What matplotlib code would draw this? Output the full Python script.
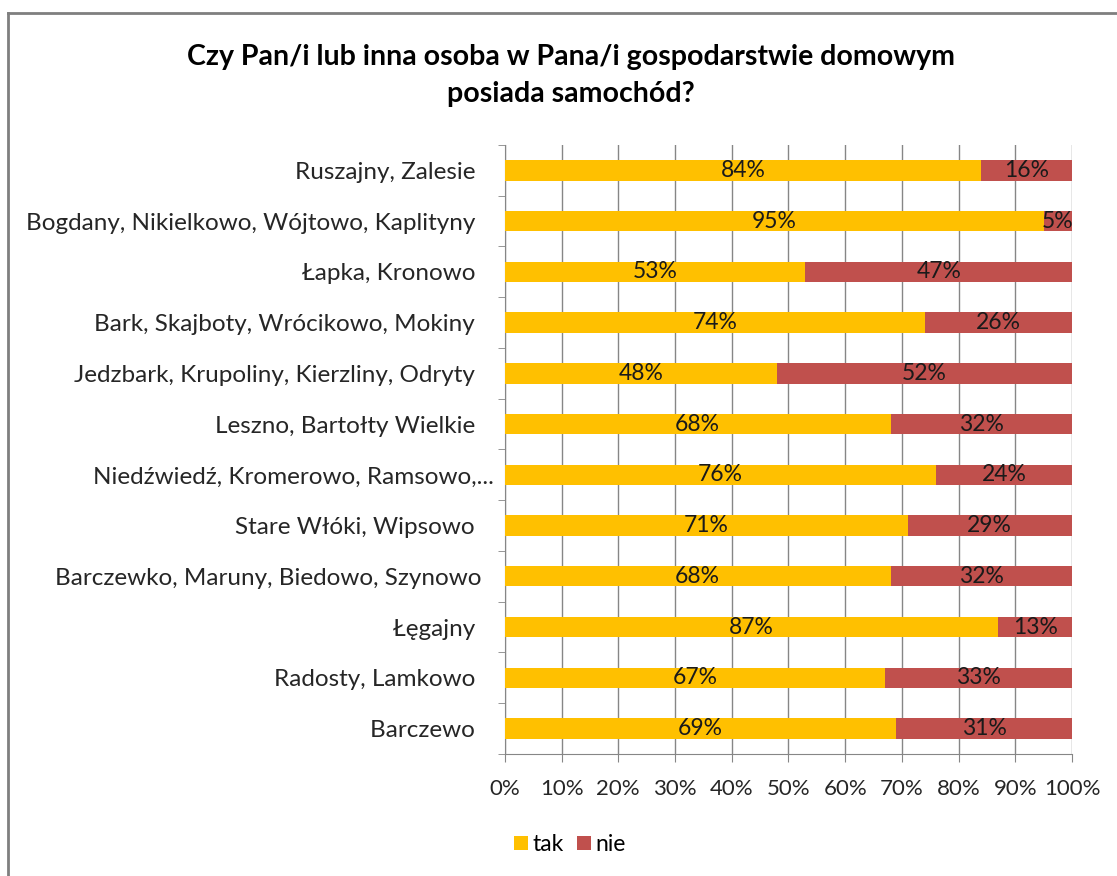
import matplotlib.pyplot as plt
import numpy as np
from matplotlib.lines import Line2D

plt.rcParams['font.family'] = ['Lato', 'DejaVu Sans']

places = [
    "Ruszajny, Zalesie",
    "Bogdany, Nikielkowo, Wójtowo, Kaplityny",
    "Łapka, Kronowo",
    "Bark, Skajboty, Wrócikowo, Mokiny",
    "Jedzbark, Krupoliny, Kierzliny, Odryty",
    "Leszno, Bartołty Wielkie",
    "Niedźwiedź, Kromerowo, Ramsowo,...",
    "Stare Włóki, Wipsowo",
    "Barczewko, Maruny, Biedowo, Szynowo",
    "Łęgajny",
    "Radosty, Lamkowo",
    "Barczewo",
]
tak = [84, 95, 53, 74, 48, 68, 76, 71, 68, 87, 67, 69]
nie = [16, 5, 47, 26, 52, 32, 24, 29, 32, 13, 33, 31]
# trailing gaps after the labels, as in the original
label_gap = [3, 3, 3, 3, 3, 3, 0, 3, 2, 3, 3, 3]

c_tak = '#FFC000'
c_nie = '#C0504D'

fig = plt.figure(figsize=(11.17, 8.76), dpi=100)
ax = fig.add_axes([0.452, 0.1393, 0.5077, 0.6952])

y = np.arange(len(places))
tak = np.array(tak)
nie = np.array(nie)
ax.barh(y, tak, height=0.4, color=c_tak, label='tak', zorder=3)
ax.barh(y, nie, left=tak, height=0.4, color=c_nie, label='nie', zorder=3)

for i in range(len(places)):
    ax.text(tak[i] / 2, y[i], f'{tak[i]}%', ha='center', va='center',
            fontsize=16.5, color='#1a1a1a', zorder=4)
    ax.text(tak[i] + nie[i] / 2, y[i], f'{nie[i]}%', ha='center', va='center',
            fontsize=16.5, color='#1a1a1a', zorder=4)

ax.set_xlim(0, 100)
ax.set_ylim(len(places) - 0.5, -0.5)
ax.set_xticks(np.arange(0, 101, 10))
ax.set_xticklabels([f'{v}%' for v in range(0, 101, 10)], fontsize=16, color='#262626')
ax.set_yticks(y)
ax.set_yticklabels([p + ' ' * g for p, g in zip(places, label_gap)], fontsize=17.5, color='#262626')
ax.set_yticks(np.arange(-0.5, len(places), 1), minor=True)
ax.tick_params(axis='y', which='major', length=0, pad=8)
ax.tick_params(axis='y', which='minor', length=5, direction='out', color='#868686')
ax.tick_params(axis='x', length=6, direction='out', color='#868686', pad=12)
ax.grid(axis='x', color='#868686', linewidth=1, zorder=0)
for s in ['top', 'right']:
    ax.spines[s].set_visible(False)
for s in ['left', 'bottom']:
    ax.spines[s].set_color('#868686')

fig.text(0.511, 0.914, 'Czy Pan/i lub inna osoba w Pana/i gospodarstwie domowym\nposiada samochód?',
         ha='center', va='center', fontsize=20.5, fontweight='bold', linespacing=1.5)

ax.legend(loc='center', bbox_to_anchor=(0.115, -0.149), ncol=2, frameon=False,
          fontsize=16.5, handlelength=0.6, handleheight=0.6, columnspacing=0.6,
          handletextpad=0.2)

# chart border
fig.add_artist(Line2D([8 / 1117, 8 / 1117], [0, 1 - 13 / 876], color='#7f7f7f', lw=2))
fig.add_artist(Line2D([8 / 1117, 1], [1 - 13 / 876, 1 - 13 / 876], color='#7f7f7f', lw=2))

fig.savefig('out.png', dpi=100)
